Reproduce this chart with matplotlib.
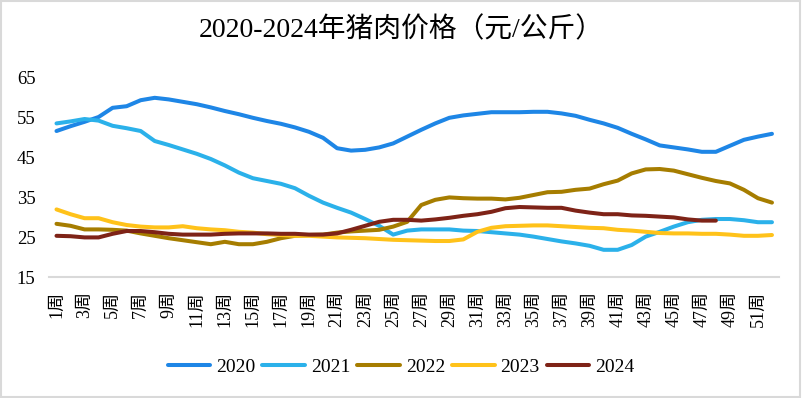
import matplotlib
matplotlib.use('Agg')
import matplotlib.pyplot as plt
from matplotlib.patches import Rectangle

plt.rcParams['font.family'] = ['Liberation Serif', 'Noto Sans CJK SC']

# 周数
weeks = list(range(1, 53))
week_labels = [f'{w}周' for w in weeks]

# 各年猪肉价格（元/公斤）
p2020 = [51.5, 52.7, 53.8, 55.0, 57.3, 57.7, 59.2, 59.8, 59.4, 58.8,
         58.2, 57.4, 56.5, 55.7, 54.8, 54.0, 53.3, 52.4, 51.3, 49.8,
         47.2, 46.6, 46.8, 47.4, 48.4, 50.1, 51.8, 53.4, 54.8, 55.4,
         55.8, 56.2, 56.2, 56.2, 56.3, 56.3, 55.9, 55.3, 54.3, 53.4,
         52.3, 50.8, 49.4, 47.9, 47.4, 46.9, 46.3, 46.3, 47.8, 49.3,
         50.1, 50.8]
p2021 = [53.4, 53.9, 54.5, 54.1, 52.8, 52.2, 51.5, 49.0, 48.0, 46.9,
         45.8, 44.5, 42.9, 41.1, 39.7, 39.0, 38.3, 37.2, 35.3, 33.6,
         32.3, 31.1, 29.5, 27.8, 25.6, 26.6, 26.9, 26.9, 26.9, 26.6,
         26.5, 26.2, 25.9, 25.6, 25.1, 24.5, 23.9, 23.4, 22.8, 21.8,
         21.8, 23.0, 25.1, 26.3, 27.6, 28.7, 29.3, 29.5, 29.5, 29.2,
         28.7, 28.7]
p2022 = [28.3, 27.8, 26.9, 26.9, 26.8, 26.6, 25.9, 25.3, 24.7, 24.2,
         23.7, 23.2, 23.8, 23.2, 23.2, 23.8, 24.7, 25.3, 25.5, 25.6,
         26.1, 26.4, 26.6, 26.8, 27.6, 28.8, 33.0, 34.3, 34.9, 34.7,
         34.6, 34.6, 34.4, 34.8, 35.5, 36.2, 36.3, 36.8, 37.1, 38.2,
         39.1, 40.9, 41.9, 42.0, 41.6, 40.7, 39.8, 39.0, 38.4, 36.8,
         34.7, 33.6]
p2023 = [31.9, 30.7, 29.7, 29.7, 28.7, 28.0, 27.6, 27.4, 27.4, 27.7,
         27.2, 26.9, 26.7, 26.3, 26.1, 25.7, 25.5, 25.3, 25.3, 25.1,
         24.9, 24.8, 24.7, 24.5, 24.3, 24.2, 24.1, 24.0, 24.0, 24.4,
         26.3, 27.3, 27.7, 27.8, 27.9, 27.9, 27.7, 27.5, 27.3, 27.2,
         26.8, 26.6, 26.3, 26.0, 25.9, 25.9, 25.8, 25.8, 25.6, 25.3,
         25.3, 25.5]
p2024 = [25.3, 25.2, 24.9, 24.9, 25.8, 26.5, 26.5, 26.2, 25.8, 25.6,
         25.6, 25.6, 25.8, 25.9, 25.9, 25.9, 25.8, 25.8, 25.6, 25.6,
         25.9, 26.8, 27.8, 28.8, 29.3, 29.3, 29.1, 29.4, 29.8, 30.3,
         30.7, 31.3, 32.2, 32.5, 32.4, 32.3, 32.3, 31.6, 31.1, 30.7,
         30.7, 30.4, 30.3, 30.1, 29.9, 29.4, 29.1, 29.1]

years = ['2020', '2021', '2022', '2023', '2024']
colors = ['#1E86E6', '#2BB1EA', '#A67D00', '#FFC21A', '#7E2317']
series = [p2020, p2021, p2022, p2023, p2024]

fig = plt.figure(figsize=(8.02, 3.98), dpi=100)
ax = fig.add_axes([0.0617, 0.304, 0.9096, 0.5025])

for name, vals, c in zip(years, series, colors):
    ax.plot(weeks[:len(vals)], vals, color=c, linewidth=2.9, label=name,
            solid_capstyle='round')

ax.set_xlim(0.5, 52.5)
ax.set_ylim(15, 65)
ax.set_yticks([15, 25, 35, 45, 55, 65])
ax.set_xticks(weeks[::2])
ax.set_xticklabels(week_labels[::2], rotation=90)
ax.tick_params(axis='y', length=0, pad=10, labelsize=13.5)
ax.tick_params(axis='x', length=0, pad=10, labelsize=13)

for s in ['top', 'right', 'left']:
    ax.spines[s].set_visible(False)
ax.spines['bottom'].set_color('#D9D9D9')
ax.spines['bottom'].set_linewidth(1.5)

fig.text(0.5, 0.925, '2020-2024年猪肉价格（元/公斤）', ha='center', va='center',
         fontsize=20)

fig.legend(loc='center', bbox_to_anchor=(0.5, 0.078), ncol=5, frameon=False,
           fontsize=14, handlelength=2.2, handletextpad=0.3, columnspacing=0.35)

# 外边框
fig.patches.append(Rectangle((0.001, 0.002), 0.997, 0.995, transform=fig.transFigure,
                             fill=False, edgecolor='#D9D9D9', linewidth=1.5))

fig.savefig('out.png', dpi=100)
